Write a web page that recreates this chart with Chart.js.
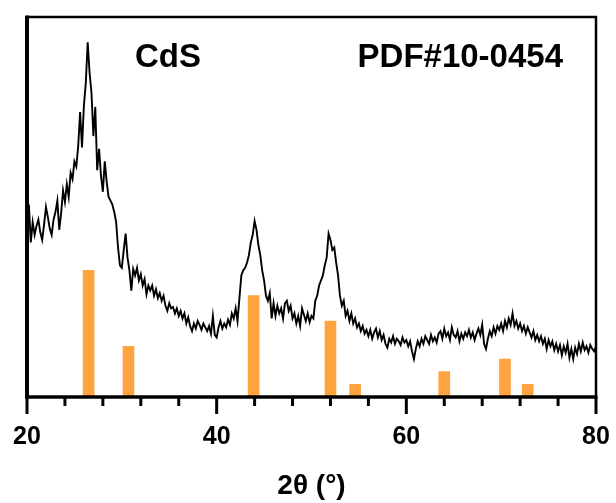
<!DOCTYPE html>
<html>
<head>
<meta charset="utf-8">
<script src="https://cdn.jsdelivr.net/npm/chart.js@4/dist/chart.umd.min.js"></script>
<style>
  html, body { margin: 0; padding: 0; background: #fff; }
  #wrap { width: 616px; height: 503px; }
</style>
</head>
<body>
<div id="wrap"><canvas id="xrd"></canvas></div>
<script>
// XRD scan: 2theta from 20 to 80 deg, 0.2 deg step
const scanStart = 20;
const scanStep = 0.2;
const intensity = [
  124, 152, 122, 138, 128, 135, 140, 130, 124, 136,
  150, 142, 133, 128, 140, 146, 155, 132, 145, 163,
  154, 168, 158, 177, 172, 186, 182, 198, 225, 197,
  230, 248, 280, 256, 240, 206, 229, 179, 196, 175,
  162, 186, 170, 158, 155, 152, 146, 138, 118, 104,
  102, 116, 129, 110, 100, 84, 101, 96, 102, 92,
  97, 88, 93, 81, 88, 84, 88, 80, 85, 78,
  82, 76, 80, 72, 68, 74, 70, 71, 66, 70,
  64, 68, 62, 66, 58, 63, 56, 52, 58, 54,
  60, 57, 53, 58, 55, 52, 56, 50, 64, 49,
  47, 55, 60, 54, 58, 55, 61, 57, 66, 62,
  70, 60, 78, 96, 100, 102, 106, 112, 122, 128,
  139, 132, 120, 112, 100, 92, 80, 76, 82, 62,
  74, 64, 72, 66, 70, 62, 74, 76, 68, 72,
  62, 66, 58, 64, 56, 70, 65, 60, 66, 59,
  64, 62, 76, 80, 88, 92, 96, 104, 110, 129,
  124, 116, 118, 106, 96, 80, 72, 76, 64, 68,
  60, 66, 58, 62, 55, 58, 52, 56, 50, 53,
  48, 53, 46, 51, 54, 47, 52, 45, 49, 42,
  39, 46, 43, 48, 42, 46, 44, 41, 47, 43,
  45, 40, 44, 36, 30, 38, 44, 40, 46, 42,
  48, 45, 42, 49, 44, 47, 43, 50, 52, 46,
  54, 48, 51, 45, 55, 49, 47, 52, 44, 50,
  46, 51, 48, 53, 47, 51, 45, 50, 54, 49,
  57, 42, 38, 46, 52, 48, 55, 50, 56, 53,
  58, 52, 60, 55, 62, 57, 66, 56, 60, 54,
  58, 52, 56, 50, 55, 51, 47, 52, 45, 49,
  44, 48, 42, 46, 38, 45, 40, 44, 37, 42,
  36, 41, 33, 40, 35, 42, 31, 38, 30, 39,
  34, 42, 36, 43, 37, 40, 35, 41, 38, 36,
  40
];

// reference card lines (PDF#10-0454)
const refAngles = [26.5, 30.7, 43.9, 52.0, 54.6, 64.0, 70.4, 72.8];
const refIntensity = [100, 40, 80, 60, 10, 20, 30, 10];

const xTicks = [20, 40, 60, 80];
const sampleLabel = 'CdS';
const cardLabel = 'PDF#10-0454';
const xTitle = '2θ (°)';

const FONT = '"Liberation Sans", Arial, Helvetica, sans-serif';

const scanPoints = intensity.map((v, i) => ({ x: scanStart + i * scanStep, y: v }));
const refPoints = refAngles.map((a, i) => ({ x: a, y: refIntensity[i] }));

// box around the plot + major/minor ticks on the 2theta axis
const frame = {
  id: 'frame',
  afterDatasetsDraw(chart) {
    const { ctx, chartArea: a, scales: { x } } = chart;
    ctx.save();
    ctx.strokeStyle = '#000';
    ctx.lineCap = 'butt';
    ctx.lineWidth = 2.5;
    ctx.beginPath();
    ctx.moveTo(a.left, a.top);
    ctx.lineTo(a.right, a.top);
    ctx.lineTo(a.right, a.bottom);
    ctx.stroke();
    ctx.lineWidth = 4;
    ctx.beginPath();
    ctx.moveTo(a.left, a.top - 1.5);
    ctx.lineTo(a.left, a.bottom);
    ctx.stroke();
    ctx.lineWidth = 3.5;
    ctx.beginPath();
    ctx.moveTo(a.left - 2, a.bottom);
    ctx.lineTo(a.right + 1.5, a.bottom);
    ctx.stroke();
    ctx.lineWidth = 3;
    for (let v = x.min; v <= x.max; v += 4) {
      const px = x.getPixelForValue(v);
      const len = xTicks.includes(v) ? 17 : 9;
      ctx.beginPath();
      ctx.moveTo(px, a.bottom);
      ctx.lineTo(px, a.bottom + len);
      ctx.stroke();
    }
    ctx.restore();
  }
};

const labels = {
  id: 'labels',
  afterDraw(chart) {
    const { ctx, chartArea: a } = chart;
    ctx.save();
    ctx.fillStyle = '#000';
    ctx.font = 'bold 33px ' + FONT;
    ctx.textBaseline = 'alphabetic';
    ctx.textAlign = 'left';
    ctx.fillText(sampleLabel, a.left + 108, a.top + 50);
    ctx.textAlign = 'right';
    ctx.fillText(cardLabel, a.right - 33, a.top + 50);
    // axis title
    ctx.font = 'bold 28px ' + FONT;
    ctx.textAlign = 'center';
    ctx.fillText(xTitle, (a.left + a.right) / 2, a.bottom + 97);
    ctx.restore();
  }
};

new Chart(document.getElementById('xrd'), {
  type: 'line',
  data: {
    datasets: [
      {
        type: 'line',
        data: scanPoints,
        borderColor: '#000',
        borderWidth: 1.9,
        pointRadius: 0,
        tension: 0,
        order: 1
      },
      {
        type: 'bar',
        data: refPoints,
        backgroundColor: '#FFA33F',
        borderWidth: 0,
        barThickness: 11,
        order: 2
      }
    ]
  },
  options: {
    responsive: true,
    maintainAspectRatio: false,
    animation: false,
    layout: { padding: { left: 27, right: 20, top: 17, bottom: 26 } },
    plugins: { legend: { display: false }, tooltip: { enabled: false } },
    scales: {
      x: {
        type: 'linear',
        min: 20,
        max: 80,
        offset: false,
        grid: { display: false, drawTicks: false },
        border: { display: false },
        afterBuildTicks: (s) => { s.ticks = xTicks.map(v => ({ value: v })); },
        afterFit: (s) => { s.paddingLeft = 0; s.paddingRight = 0; },
        ticks: {
          color: '#000',
          padding: 25,
          maxRotation: 0,
          font: { family: FONT, size: 25, weight: 'bold' }
        }
      },
      y: {
        display: false,
        min: 0,
        max: 300
      }
    }
  },
  plugins: [frame, labels]
});
</script>
</body>
</html>
